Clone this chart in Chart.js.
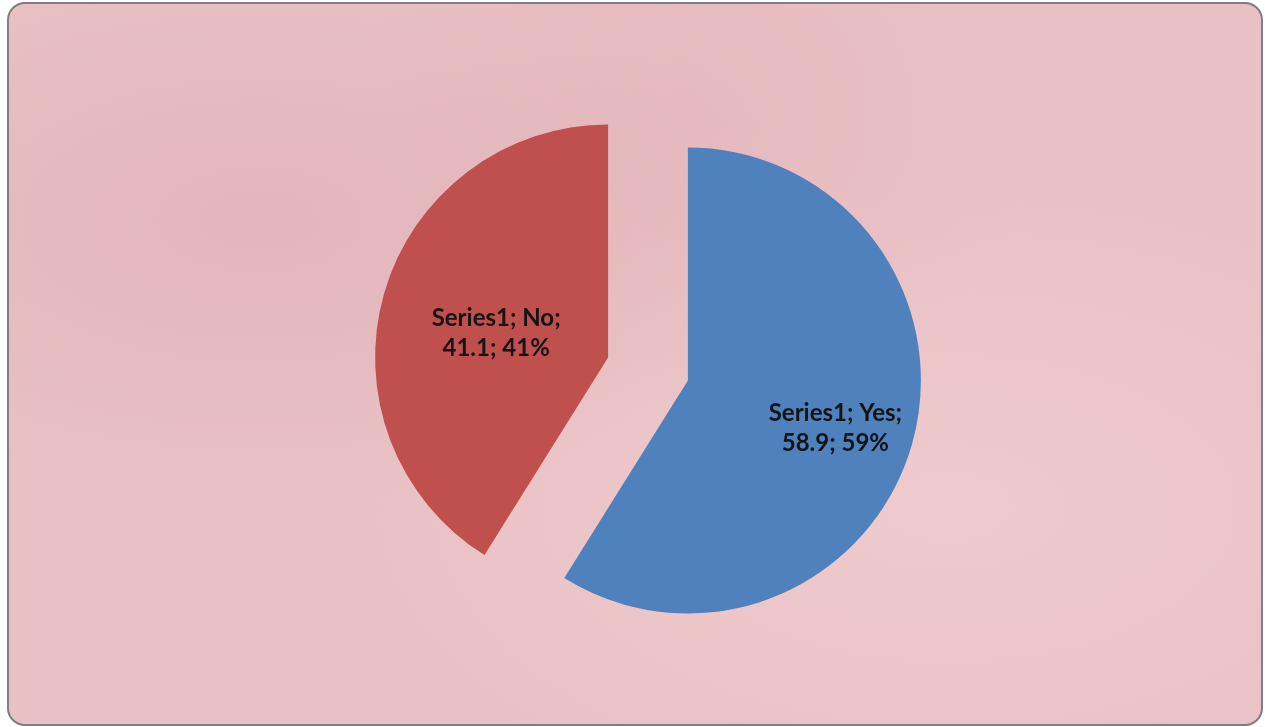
<!DOCTYPE html>
<html>
<head>
<meta charset="utf-8">
<script src="https://cdn.jsdelivr.net/npm/chart.js@4.4.1/dist/chart.umd.min.js"></script>
<style>
  html, body { margin: 0; padding: 0; background: #ffffff; }
  .frame {
    position: absolute;
    left: 7px; top: 2px;
    width: 1252px; height: 720px;
    border: 2px solid #7f7f7f;
    border-radius: 18px;
    background-color: #e9c1c4;
    background-image:
      radial-gradient(ellipse at 20% 30%, rgba(214,160,168,0.35), rgba(214,160,168,0) 40%),
      radial-gradient(ellipse at 75% 70%, rgba(245,214,216,0.45), rgba(245,214,216,0) 45%),
      radial-gradient(ellipse at 55% 15%, rgba(222,172,178,0.3), rgba(222,172,178,0) 35%);
    overflow: hidden;
  }
  #wrap { position: absolute; left: 0; top: 0; width: 1265px; height: 727px; }
</style>
</head>
<body>
<div class="frame"></div>
<div id="wrap"><canvas id="pieChart"></canvas></div>
<script>
const seriesName = 'Series1';
const categories = ['Yes', 'No'];
const values = [58.9, 41.1];
const percents = ['59%', '41%'];
const sliceColors = ['#4f81bd', '#c0504d'];

// how far Chart.js grows an exploded arc's radius when it draws it
function radiusGrowth(arc) {
    const off = (arc.options.offset || 0) / 4;
    const fix = 1 - Math.sin(Math.min(Math.PI, arc.circumference));
    return off * fix;
}

// Chart.js enlarges and narrows exploded arcs; undo both so the
// slices keep the full radius and their true angles
const keepShape = {
    id: 'keepShape',
    afterDatasetUpdate(chart, args) {
        args.meta.data.forEach(arc => {
            const grow = radiusGrowth(arc);
            const drawnR = arc.outerRadius;
            arc.outerRadius = drawnR - grow;
            const widen = grow / (2 * Math.PI * drawnR);
            arc.startAngle -= widen;
            arc.endAngle += widen;
        });
    }
};

// "Series1; Yes;" / "58.9; 59%" written inside each slice
const sliceLabels = {
    id: 'sliceLabels',
    afterDatasetsDraw(chart, args, opts) {
        const ctx = chart.ctx;
        const meta = chart.getDatasetMeta(0);
        ctx.save();
        ctx.font = 'bold 24px Lato, "Open Sans", sans-serif';
        ctx.fillStyle = '#141414';
        ctx.textAlign = 'center';
        ctx.textBaseline = 'middle';
        meta.data.forEach((arc, i) => {
            const mid = (arc.startAngle + arc.endAngle) / 2;
            const shift = (arc.options.offset || 0) / 4;
            const R = arc.outerRadius + radiusGrowth(arc);
            const d = shift + R * opts.spots[i];
            const x = arc.x + Math.cos(mid) * d + opts.nudgeX[i];
            const y = arc.y + Math.sin(mid) * d + opts.nudgeY[i];
            ctx.fillText(seriesName + '; ' + categories[i] + ';', x, y - 15);
            ctx.fillText(values[i] + '; ' + percents[i], x, y + 15);
        });
        ctx.restore();
    }
};

new Chart(document.getElementById('pieChart'), {
    type: 'pie',
    data: {
        labels: categories,
        datasets: [{
            label: seriesName,
            data: values,
            backgroundColor: sliceColors,
            borderWidth: 0,
            offset: 166
        }]
    },
    options: {
        responsive: true,
        maintainAspectRatio: false,
        animation: false,
        radius: 233,
        layout: { padding: { left: 31, top: 11, right: 0, bottom: 0 } },
        plugins: {
            legend: { display: false },
            tooltip: { enabled: false },
            sliceLabels: { spots: [0.663, 0.491], nudgeX: [-1, -2], nudgeY: [5, 7] }
        }
    },
    plugins: [keepShape, sliceLabels]
});
</script>
</body>
</html>
